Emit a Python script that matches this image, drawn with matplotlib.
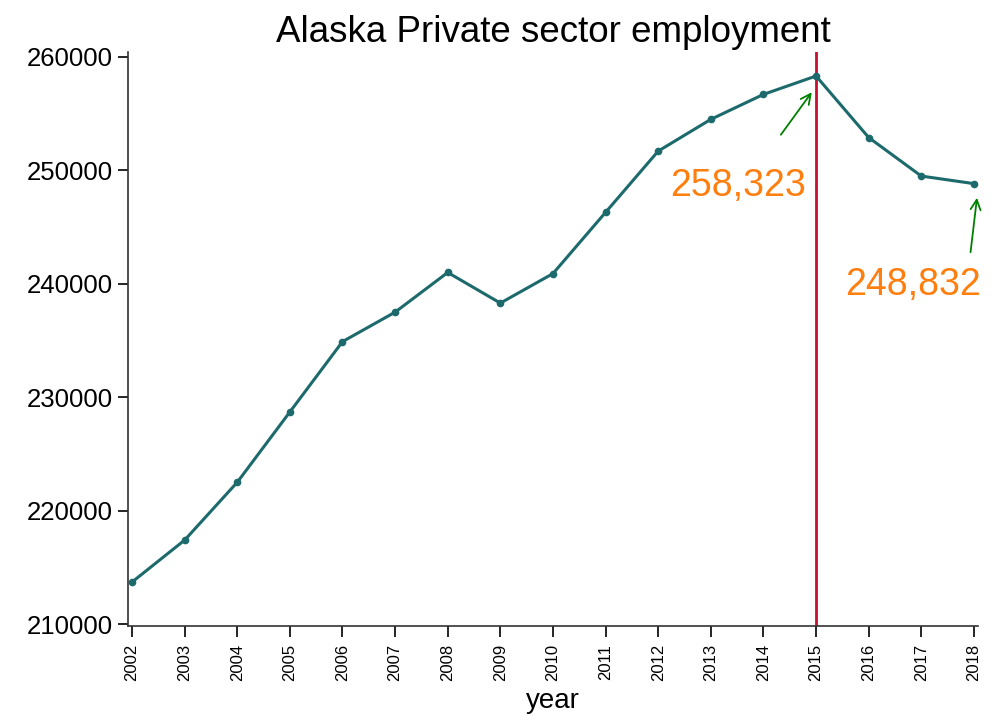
import matplotlib
matplotlib.use('Agg')
from matplotlib import pyplot as plt

plt.rcParams['font.family'] = ['Liberation Sans', 'DejaVu Sans']

years = [2002, 2003, 2004, 2005, 2006, 2007, 2008, 2009, 2010,
         2011, 2012, 2013, 2014, 2015, 2016, 2017, 2018]
employment = [213700, 217400, 222500, 228700, 234900, 237500, 241000, 238300, 240900,
              246300, 251700, 254500, 256700, 258323, 252900, 249500, 248832]
yticks = [210000, 220000, 230000, 240000, 250000, 260000]
peak_year = 2015
peak_label = '258,323'
last_label = '248,832'

def main():
    fig = plt.figure(figsize=(10.04, 7.14), dpi=100)
    ax = fig.add_axes([0.1275, 0.1232, 0.8465, 0.804])

    ax.plot(years, employment, color='#1d6a6c', lw=2.2, marker='o', ms=4.5, zorder=3)
    ax.axvline(peak_year, color='#c8102e', lw=2, zorder=2)

    ax.set_xlim(2001.924, 2018.076)
    ax.set_ylim(209824, 260441)
    ax.set_xticks(years)
    ax.set_xticklabels([str(y) for y in years], rotation=90, fontsize=12)
    ax.set_yticks(yticks)
    ax.set_yticklabels([str(v) for v in yticks], fontsize=18.5)
    ax.tick_params(axis='y', length=7, width=1.2, pad=4)
    ax.tick_params(axis='x', length=8, width=1.2, pad=5)

    for s in ['top', 'right']:
        ax.spines[s].set_visible(False)
    for s in ['left', 'bottom']:
        ax.spines[s].set_linewidth(1.2)
        ax.spines[s].set_color('#333333')

    ax.set_xlabel('year', fontsize=20, labelpad=5)
    ax.set_title('Alaska Private sector employment', fontsize=26.5, pad=7)

    arrow = dict(arrowstyle='->', color='green', lw=1.3, mutation_scale=18)
    ax.annotate('', xy=(2014.95, 257090), xytext=(2014.30, 252945), arrowprops=arrow)
    ax.annotate('', xy=(2018.065, 247831), xytext=(2017.93, 242540), arrowprops=arrow,
                annotation_clip=False)
    ax.text(2012.23, 248650, peak_label, color='#ff7f0e', fontsize=27, ha='left', va='center')
    ax.text(2015.56, 239900, last_label, color='#ff7f0e', fontsize=27, ha='left', va='center')

    fig.savefig('out.png', dpi=100)

main()
